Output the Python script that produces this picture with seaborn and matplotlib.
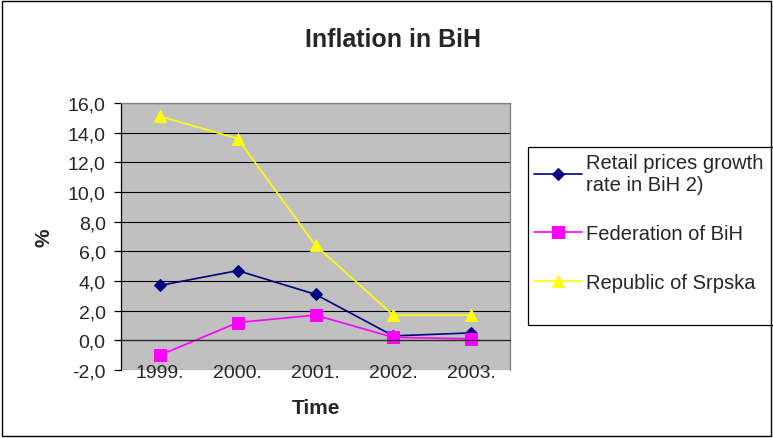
import numpy as np
import pandas as pd
import seaborn as sns
import matplotlib.pyplot as plt
from matplotlib.ticker import FuncFormatter, FixedLocator
from matplotlib.patches import Rectangle

# chart data
years = ["1999.", "2000.", "2001.", "2002.", "2003."]
retail = [3.7, 4.7, 3.1, 0.3, 0.5]
federation = [-1.0, 1.2, 1.7, 0.2, 0.1]
srpska = [15.1, 13.6, 6.4, 1.7, 1.7]

series_names = ["Retail prices growth\nrate in BiH 2)", "Federation of BiH", "Republic of Srpska"]
series_colors = ["#000080", "#FF00FF", "#FFFF00"]
series_markers = ["D", "s", "^"]
series_sizes = [6, 8, 9]

sns.set_style("white")
plt.rcParams["font.family"] = ["Liberation Sans", "DejaVu Sans"]

fig = plt.figure(figsize=(7.73, 4.39), dpi=100)
ax = fig.add_axes([121 / 773, 1 - 371 / 439, 389 / 773, 267 / 439])
ax.set_facecolor("#C0C0C0")

x = np.arange(len(years))
for vals, name, col, mk, ms in zip([retail, federation, srpska], series_names,
                                   series_colors, series_markers, series_sizes):
    sns.lineplot(x=x, y=vals, ax=ax, color=col, marker=mk, markersize=ms,
                 markeredgecolor=col, linewidth=1.2, label=name)

ax.set_xlim(-0.5, len(years) - 0.5)
ax.set_ylim(-2, 16)
ax.yaxis.set_major_locator(FixedLocator(np.arange(-2, 17, 2)))
ax.yaxis.set_major_formatter(FuncFormatter(lambda v, p: f"{v:.1f}".replace(".", ",")))
ax.grid(axis="y", color="black", linewidth=0.8)
ax.set_axisbelow(True)

# x axis crossing at zero with category boundary ticks
ax.spines["bottom"].set_position(("data", 0))
ax.spines["bottom"].set_linewidth(0.9)
ax.set_xticks(x)
ax.set_xticklabels(years)
ax.set_xticks(np.arange(0.5, len(years), 1), minor=True)
ax.tick_params(axis="x", which="major", length=0, pad=17, labelsize=14)
ax.tick_params(axis="x", which="minor", length=7, width=0.9, direction="out", color="black")
ax.tick_params(axis="y", length=5, width=0.9, direction="out", color="black",
               labelsize=14, left=True, pad=6)
ax.spines["left"].set_color("black")
ax.spines["left"].set_linewidth(0.9)
for s in ["top", "right"]:
    ax.spines[s].set_color("#808080")
    ax.spines[s].set_linewidth(0.9)

ax.set_xlabel("Time", fontsize=15, fontweight="bold", labelpad=12)
ax.set_ylabel("%", fontsize=15, fontweight="bold", labelpad=10)
fig.text(393 / 773, 1 - 40 / 439, "Inflation in BiH", ha="center", va="center",
         fontsize=18, fontweight="bold")

leg = ax.legend(loc="upper left", bbox_to_anchor=(530 / 773, 1 - 150 / 439),
                bbox_transform=fig.transFigure, frameon=False,
                fontsize=14.5, labelspacing=1.5, handlelength=2.4, borderpad=0.2,
                handletextpad=0.2, borderaxespad=0)

# legend frame, running off the right edge like the original
fig.patches.append(Rectangle((528 / 773, 1 - 326 / 439), 250 / 773, 178 / 439,
                             transform=fig.transFigure, fill=False,
                             edgecolor="black", linewidth=0.9))
fig.patches.append(Rectangle((0.002, 0.004), 0.996, 0.992, transform=fig.transFigure,
                             fill=False, edgecolor="black", linewidth=1))

fig.savefig("out.png", dpi=100)
